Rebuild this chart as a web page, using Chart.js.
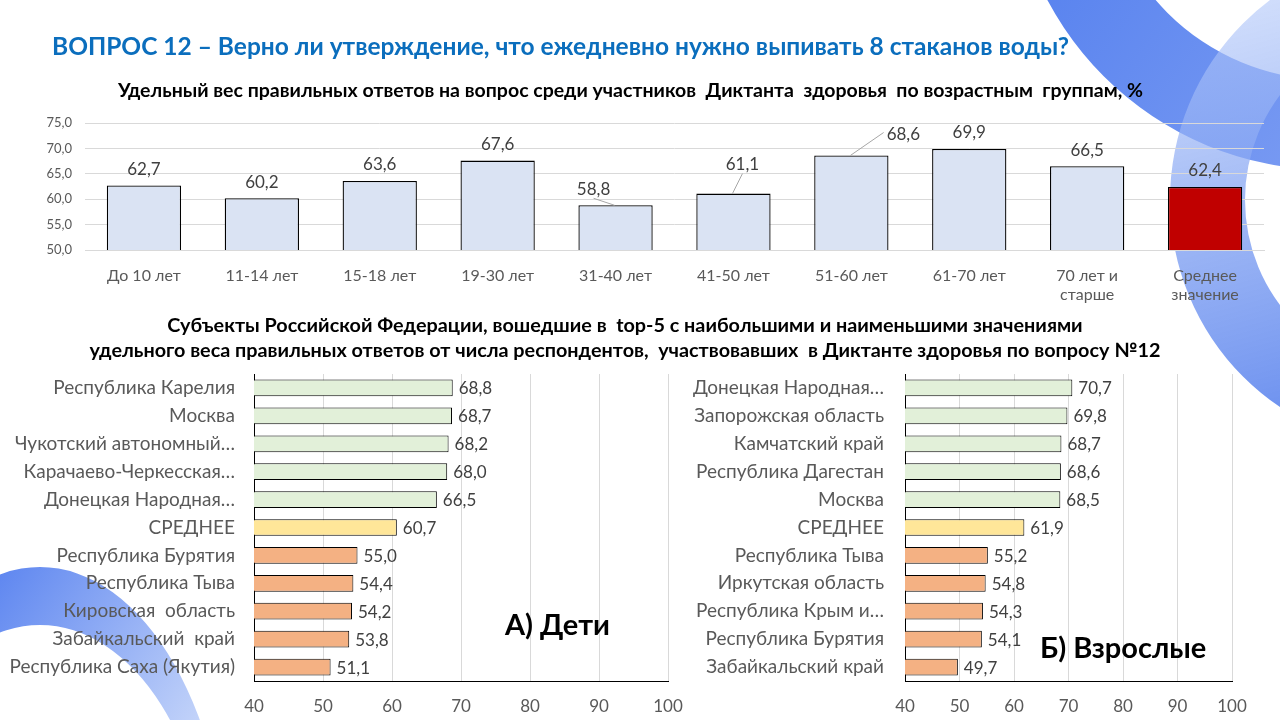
<!DOCTYPE html>
<html>
  <head>
    <meta charset="UTF-8">
    <style>
      body { margin:0; width:1280px; height:720px; overflow:hidden; background:#fff; font-family:Lato, sans-serif; }
      canvas { position:absolute; }
      .t { position:absolute; white-space:pre; }
    </style>
  </head>
  <body>
    <canvas id="deco" width="1280" height="720" style="left:0;top:0"></canvas>

    <div class="t" style="left:52px;top:31px;font-size:24.5px;font-weight:bold;color:#0b6ebd">ВОПРОС 12 – Верно ли утверждение, что ежедневно нужно выпивать 8 стаканов воды?</div>
    <div class="t" style="left:0;width:1261px;top:78px;text-align:center;font-size:19.5px;font-weight:bold;color:#000">Удельный вес правильных ответов на вопрос среди участников  Диктанта  здоровья  по возрастным  группам, %</div>
    <div class="t" style="left:0;width:1250px;top:312px;text-align:center;font-size:19.8px;font-weight:bold;color:#000;line-height:25px">Субъекты Российской Федерации, вошедшие в  top-5 с наибольшими и наименьшими значениями
удельного веса правильных ответов от числа респондентов,  участвовавших  в Диктанте здоровья по вопросу №12</div>

    <canvas id="ages" width="1280" height="200" style="left:0;top:110px"></canvas>
    <canvas id="kids" width="690" height="355" style="left:0;top:365px"></canvas>
    <canvas id="adults" width="620" height="355" style="left:660px;top:365px"></canvas>

    <div class="t" style="left:505px;top:606px;font-size:29px;font-weight:bold;color:#000">А) Дети</div>
    <div class="t" style="left:1040px;top:629px;font-size:29px;font-weight:bold;color:#000">Б) Взрослые</div>

    <script src="https://cdn.jsdelivr.net/npm/chart.js@4.4.1/dist/chart.umd.min.js"></script>
    <script type="text/javascript">

      // верхний график: по возрастным группам
      const ageLabels = ['До 10 лет', '11-14 лет', '15-18 лет', '19-30 лет', '31-40 лет', '41-50 лет',
                         '51-60 лет', '61-70 лет', ['70 лет и', 'старше'], ['Среднее', 'значение']];
      const ageValues = [62.7, 60.2, 63.6, 67.6, 58.8, 61.1, 68.6, 69.9, 66.5, 62.4];
      const ageTicks = [50, 55, 60, 65, 70, 75];

      // дети
      const kidsRegions = ['Республика Карелия', 'Москва', 'Чукотский автономный…', 'Карачаево-Черкесская…',
                           'Донецкая Народная…', 'СРЕДНЕЕ', 'Республика Бурятия', 'Республика Тыва',
                           'Кировская  область', 'Забайкальский  край', 'Республика Саха (Якутия)'];
      const kidsValues = [68.8, 68.7, 68.2, 68.0, 66.5, 60.7, 55.0, 54.4, 54.2, 53.8, 51.1];

      // взрослые
      const adultRegions = ['Донецкая Народная…', 'Запорожская область', 'Камчатский край', 'Республика Дагестан',
                            'Москва', 'СРЕДНЕЕ', 'Республика Тыва', 'Иркутская область',
                            'Республика Крым и…', 'Республика Бурятия', 'Забайкальский край'];
      const adultValues = [70.7, 69.8, 68.7, 68.6, 68.5, 61.9, 55.2, 54.8, 54.3, 54.1, 49.7];

      const regionTicks = [40, 50, 60, 70, 80, 90, 100];

      Chart.defaults.font.family = 'Lato';
      Chart.defaults.color = '#595959';

      const fmt = v => v.toFixed(1).replace('.', ',');

      // подписи значений (datalabels с CDN не грузится)
      const valueLabels = {
        id: 'valueLabels',
        afterDatasetsDraw(chart, args, opts) {
          const ctx = chart.ctx;
          const meta = chart.getDatasetMeta(0);
          const values = chart.data.datasets[0].data;
          const shift = opts.shift || {};
          ctx.save();
          ctx.font = opts.size + 'px Lato';
          ctx.fillStyle = '#404040';
          meta.data.forEach((bar, i) => {
            const txt = fmt(values[i]);
            if (chart.options.indexAxis === 'y') {
              ctx.textAlign = 'left';
              ctx.textBaseline = 'middle';
              ctx.fillText(txt, bar.x + 6, bar.y + 1);
            } else {
              const d = shift[i] || [0, 0];
              const x = bar.x + d[0];
              const y = bar.y - 16 + d[1];
              ctx.textAlign = 'center';
              ctx.textBaseline = 'middle';
              ctx.fillText(txt, x, y);
              if (shift[i]) {
                const w = ctx.measureText(txt).width;
                ctx.strokeStyle = '#a6a6a6';
                ctx.lineWidth = 1;
                ctx.beginPath();
                if (Math.abs(d[0]) > 30) ctx.moveTo(x - w / 2 - 3, y - 2);
                else ctx.moveTo(x, y + 9);
                ctx.lineTo(bar.x - 1, bar.y);
                ctx.stroke();
              }
            }
          });
          ctx.restore();
        }
      };

      function noPadV(s) { s.paddingTop = 0; s.paddingBottom = 0; }
      function noPadH(s) { s.paddingLeft = 0; s.paddingRight = 0; }

      function drawDeco() {
        const c = document.getElementById('deco').getContext('2d');

        let g = c.createLinearGradient(1040, 0, 1280, 180);
        g.addColorStop(0, '#5a84ef');
        g.addColorStop(1, '#7799f2');
        c.fillStyle = g;
        c.beginPath();
        c.arc(1330, -150, 320, 0, Math.PI * 2);
        c.arc(1330, -150, 230, 0, Math.PI * 2, true);
        c.fill();

        g = c.createLinearGradient(1170, 0, 1280, 410);
        g.addColorStop(0, 'rgba(185,205,250,0.6)');
        g.addColorStop(0.5, 'rgba(130,162,242,0.75)');
        g.addColorStop(1, 'rgba(95,135,238,0.9)');
        c.fillStyle = g;
        c.beginPath();
        c.arc(1420, 200, 250, 0, Math.PI * 2);
        c.arc(1420, 200, 175, 0, Math.PI * 2, true);
        c.fill();

        g = c.createLinearGradient(0, 570, 220, 720);
        g.addColorStop(0, '#5f87f0');
        g.addColorStop(1, '#c9d8fa');
        c.fillStyle = g;
        c.beginPath();
        c.ellipse(40, 900, 190, 333, 0, 0, Math.PI * 2);
        c.ellipse(40, 900, 172, 275, 0, 0, Math.PI * 2, true);
        c.fill();
      }

      function createAgeChart(name) {
        return new Chart(document.getElementById(name), {
          type: 'bar',
          data: {
            labels: ageLabels,
            datasets: [{
              data: ageValues,
              backgroundColor: ageValues.map((v, i) => i === ageValues.length - 1 ? '#c00000' : '#dae3f3'),
              borderColor: '#000',
              borderWidth: 1.3,
              barPercentage: 0.63,
              categoryPercentage: 1
            }]
          },
          options: {
            responsive: false,
            animation: false,
            layout: { padding: { top: 13, right: 16, left: 0, bottom: 0 } },
            plugins: {
              legend: { display: false },
              tooltip: { enabled: false },
              valueLabels: { size: 17, shift: { 4: [-22, 0], 5: [9, -13], 6: [52, -5] } }
            },
            scales: {
              y: {
                min: ageTicks[0],
                max: ageTicks[ageTicks.length - 1],
                afterBuildTicks: s => { s.ticks = ageTicks.map(v => ({ value: v })); },
                ticks: { callback: v => fmt(v), font: { size: 13 }, padding: 13 },
                grid: { color: '#d9d9d9', drawTicks: false },
                border: { display: false },
                afterFit: s => { s.width = 85; noPadV(s); }
              },
              x: {
                grid: { display: false, drawTicks: false },
                border: { color: '#d9d9d9' },
                ticks: { font: { size: 16 }, padding: 16, maxRotation: 0, autoSkip: false },
                afterFit: s => { s.height = 60; noPadH(s); }
              }
            }
          },
          plugins: [valueLabels]
        });
      }

      function createRegionChart(name, labels, values, axisWidth, rightPad, labelPad) {
        const avg = labels.indexOf('СРЕДНЕЕ');
        return new Chart(document.getElementById(name), {
          type: 'bar',
          data: {
            labels: labels,
            datasets: [{
              data: values,
              backgroundColor: values.map((v, i) => i < avg ? '#e2f0d9' : (i === avg ? '#ffe699' : '#f4b183')),
              borderColor: '#000',
              borderWidth: 1,
              barPercentage: 0.6,
              categoryPercentage: 1
            }]
          },
          options: {
            indexAxis: 'y',
            responsive: false,
            animation: false,
            layout: { padding: { top: 9, right: rightPad, left: 0, bottom: 0 } },
            plugins: {
              legend: { display: false },
              tooltip: { enabled: false },
              valueLabels: { size: 17 }
            },
            scales: {
              x: {
                min: regionTicks[0],
                max: regionTicks[regionTicks.length - 1],
                afterBuildTicks: s => { s.ticks = regionTicks.map(v => ({ value: v })); },
                ticks: { font: { size: 17 }, padding: 15 },
                grid: { color: '#d9d9d9', drawTicks: false },
                border: { color: '#000', width: 1 },
                afterFit: s => { s.height = 39; noPadH(s); }
              },
              y: {
                grid: { display: false, drawTicks: false },
                border: { color: '#000', width: 1 },
                ticks: { font: { size: 19 }, padding: labelPad, autoSkip: false },
                afterFit: s => { s.width = axisWidth; noPadV(s); }
              }
            }
          },
          plugins: [valueLabels]
        });
      }

      drawDeco();
      createAgeChart('ages');
      createRegionChart('kids', kidsRegions, kidsValues, 254, 22, 19);
      createRegionChart('adults', adultRegions, adultValues, 245, 48, 21);

    </script>
  </body>
</html>
